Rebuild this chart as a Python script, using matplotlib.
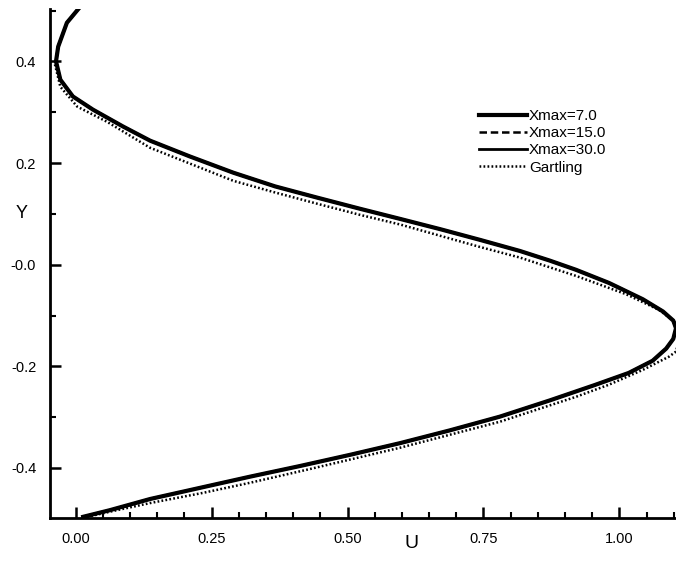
import numpy as np
import matplotlib
matplotlib.use("Agg")
import matplotlib.pyplot as plt

plt.rcParams["font.family"] = ["Liberation Sans", "DejaVu Sans"]

# ---------------------------------------------
# Datos (perfil de velocidad U(Y))
# ---------------------------------------------
y_comp = [0.503, 0.476, 0.429, 0.400, 0.364, 0.331, 0.305, 0.272, 0.244, 0.213,
          0.181, 0.154, 0.132, 0.110, 0.090, 0.070, 0.049, 0.027, 0.008, -0.010,
          -0.036, -0.068, -0.092, -0.110, -0.125,
          -0.146, -0.165, -0.189, -0.213, -0.237, -0.267, -0.299, -0.326,
          -0.351, -0.374, -0.396, -0.417, -0.439, -0.461, -0.483, -0.496]
u_x7 = [0.005, -0.016, -0.032, -0.036, -0.028, -0.005, 0.032, 0.087, 0.137, 0.210,
        0.290, 0.367, 0.444, 0.523, 0.597, 0.670, 0.743, 0.817, 0.872, 0.920,
        0.981, 1.043, 1.080, 1.099, 1.104,
        1.099, 1.086, 1.061, 1.017, 0.954, 0.872, 0.780, 0.688,
        0.597, 0.505, 0.413, 0.321, 0.229, 0.137, 0.063, 0.014]
u_x15 = [0.005, -0.016, -0.032, -0.036, -0.028, -0.005, 0.032, 0.087, 0.137, 0.210,
         0.290, 0.367, 0.444, 0.523, 0.597, 0.670, 0.743, 0.817, 0.872, 0.920,
         0.981, 1.043, 1.080, 1.099, 1.104,
         1.099, 1.086, 1.061, 1.017, 0.954, 0.872, 0.780, 0.688,
         0.597, 0.505, 0.413, 0.321, 0.229, 0.137, 0.063, 0.014]
u_x30 = [0.005, -0.016, -0.032, -0.036, -0.028, -0.005, 0.032, 0.087, 0.137, 0.210,
         0.290, 0.367, 0.444, 0.523, 0.597, 0.670, 0.743, 0.817, 0.872, 0.920,
         0.981, 1.043, 1.080, 1.099, 1.104,
         1.099, 1.086, 1.061, 1.017, 0.954, 0.872, 0.780, 0.688,
         0.597, 0.505, 0.413, 0.321, 0.229, 0.137, 0.063, 0.014]

y_gart = [0.394, 0.350, 0.311, 0.281, 0.230, 0.199, 0.165, 0.142, 0.120, 0.098,
          0.079, 0.057, 0.035, 0.014, -0.022, -0.058, -0.089, -0.114, -0.142,
          -0.171, -0.181, -0.207, -0.236, -0.260, -0.309, -0.360, -0.402,
          -0.429, -0.449, -0.469, -0.486, -0.498]
u_gart = [-0.038, -0.028, 0.003, 0.058, 0.137, 0.210, 0.290, 0.367, 0.444, 0.523,
          0.597, 0.670, 0.743, 0.817, 0.920, 1.012, 1.073, 1.104, 1.111,
          1.104, 1.091, 1.043, 0.981, 0.920, 0.780, 0.597, 0.431,
          0.321, 0.234, 0.137, 0.063, 0.014]

labels = ["Xmax=7.0", "Xmax=15.0", "Xmax=30.0", "Gartling"]
x_ticks = [0.00, 0.25, 0.50, 0.75, 1.00]
x_ticklabels = ["0.00", "0.25", "0.50", "0.75", "1.00"]
y_ticks = [-0.4, -0.2, 0.0, 0.2, 0.4]
y_ticklabels = ["-0.4", "-0.2", "-0.0", "0.2", "0.4"]

# ---------------------------------------------
# Figura
# ---------------------------------------------
fig = plt.figure(figsize=(6.76, 5.64), dpi=100)
ax = fig.add_axes([0.074, 0.081, 0.926, 0.903])

g, = ax.plot(u_gart, y_gart, color="black", lw=1.8, ls=(0, (0.7, 0.9)))
l7, = ax.plot(u_x7, y_comp, color="black", lw=3.0, ls="-")
l15, = ax.plot(u_x15, y_comp, color="black", lw=1.8, ls=(0, (3, 1.5)))
l30, = ax.plot(u_x30, y_comp, color="black", lw=2.0, ls="-")

ax.set_xlim(-0.047, 1.104)
ax.set_ylim(-0.499, 0.503)

for s in ["top", "right"]:
    ax.spines[s].set_visible(False)
for s in ["left", "bottom"]:
    ax.spines[s].set_linewidth(2.0)

ax.set_xticks(x_ticks)
ax.set_xticklabels(x_ticklabels)
ax.set_yticks(y_ticks)
ax.set_yticklabels(y_ticklabels)
ax.set_xticks(np.arange(0.0, 1.11, 0.05), minor=True)
ax.set_yticks([-0.3, -0.1, 0.1, 0.3, 0.5], minor=True)
ax.tick_params(which="major", direction="in", length=8, width=1.8, labelsize=10.5, pad=10)
ax.tick_params(which="minor", direction="in", length=4, width=1.5)

ax.set_xlabel("U", fontsize=14)
ax.xaxis.set_label_coords(0.578, -0.032)
ax.set_ylabel("Y", fontsize=13, rotation=0, ha="center", va="center")
ax.yaxis.set_label_coords(-0.046, 0.599)

ax.legend([l7, l15, l30, g], labels, loc="upper left", bbox_to_anchor=(0.686, 0.803),
          frameon=False, fontsize=11, labelspacing=0.2, handletextpad=0.15,
          handlelength=3.1, borderpad=0, borderaxespad=0)

fig.savefig("out.png", dpi=100)
